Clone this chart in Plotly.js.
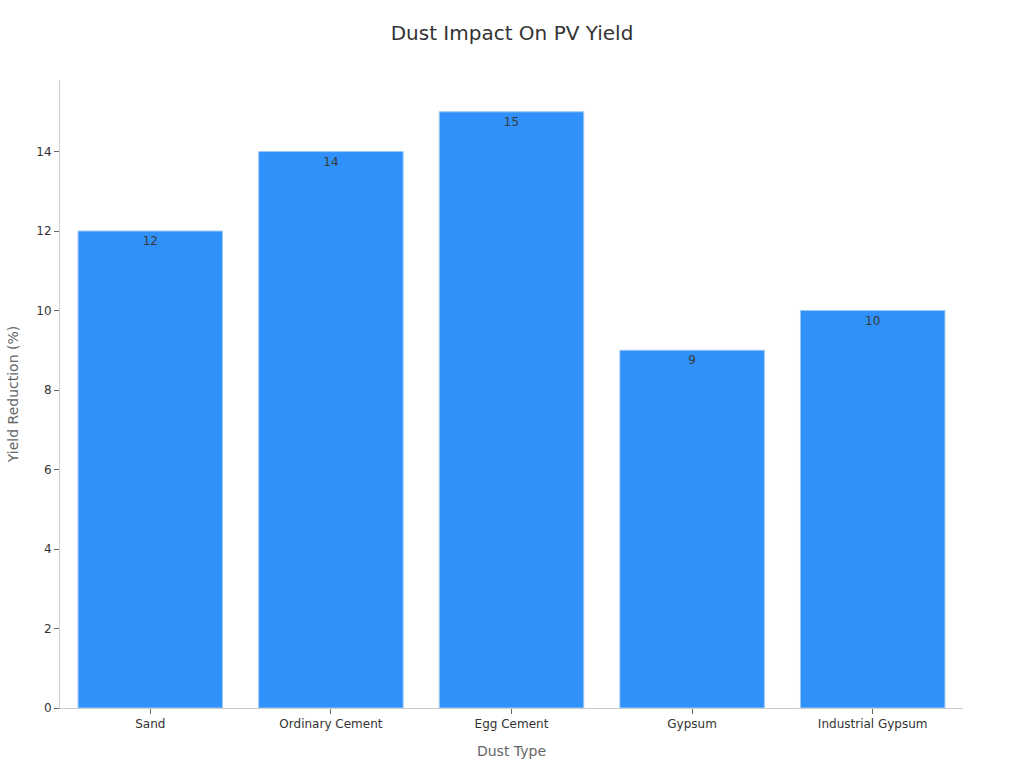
<!DOCTYPE html>
<html>
<head>
<meta charset="utf-8">
<script src="https://cdn.plot.ly/plotly-3.0.1.min.js"></script>
<style>
  html, body { margin: 0; padding: 0; background: #fff; }
  #chart { width: 1024px; height: 768px; }
</style>
</head>
<body>
<div id="chart"></div>
<script>
const dustTypes = ['Sand', 'Ordinary Cement', 'Egg Cement', 'Gypsum', 'Industrial Gypsum'];
const yieldReduction = [12, 14, 15, 9, 10];

Plotly.newPlot('chart', [{
  x: dustTypes,
  y: yieldReduction,
  type: 'bar',
  text: yieldReduction.map(String),
  textposition: 'inside',
  insidetextanchor: 'end',
  textfont: { family: 'DejaVu Sans', size: 12, color: '#3a3a3a' },
  marker: { color: '#2F91F9', line: { color: '#9CC8F5', width: 1 } },
  hoverinfo: 'x+y',
}], {
  width: 1024,
  height: 768,
  margin: { l: 60, r: 61, t: 80, b: 60 },
  paper_bgcolor: '#fff',
  plot_bgcolor: '#fff',
  font: { family: 'DejaVu Sans', color: '#333', size: 12 },
  title: {
    text: 'Dust Impact On PV Yield',
    x: 0.5, y: 0.957, yanchor: 'middle',
    font: { size: 20, color: '#333' },
  },
  bargap: 0.2,
  showlegend: false,
  xaxis: {
    title: { text: 'Dust Type', font: { size: 14, color: '#666' }, standoff: 15 },
    showline: true, linecolor: '#ccc', linewidth: 1,
    ticks: 'outside', ticklen: 5, tickcolor: '#666',
    tickfont: { size: 12, color: '#333' },
  },
  yaxis: {
    title: { text: 'Yield Reduction (%)', font: { size: 14, color: '#666' }, standoff: 14 },
    range: [0, 15.8],
    dtick: 2,
    showgrid: false, zeroline: false,
    showline: true, linecolor: '#ccc', linewidth: 1,
    ticks: 'outside', ticklen: 5, tickcolor: '#666',
    tickfont: { size: 12, color: '#333' },
  },
}, { displayModeBar: false });
</script>
</body>
</html>
